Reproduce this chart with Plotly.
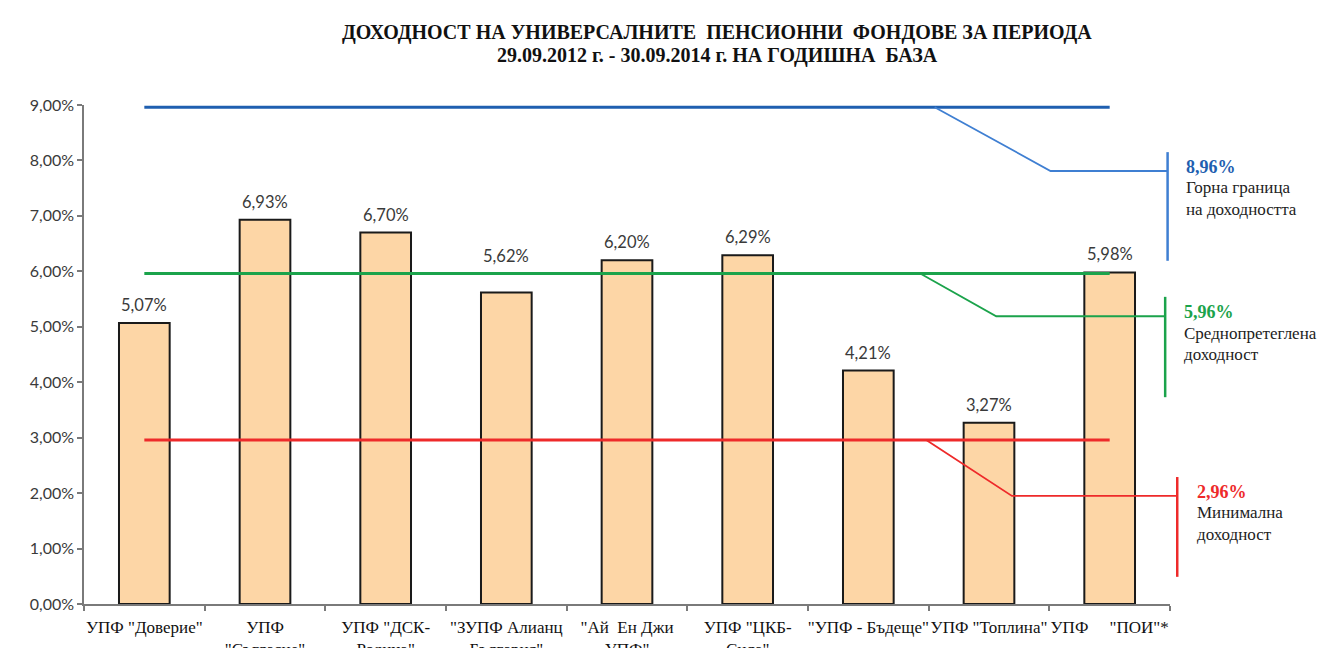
import plotly.graph_objects as go

# ---- data ----
categories = [
    'УПФ "Доверие"',
    'УПФ<br>"Съгласие"',
    'УПФ "ДСК-<br>Родина"',
    '"ЗУПФ Алианц<br>България"',
    '"Ай  Ен Джи<br>УПФ"',
    'УПФ "ЦКБ-<br>Сила"',
    '"УПФ - Бъдеще"',
    'УПФ "Топлина"',
    'УПФ\u00a0\u00a0\u00a0\u00a0\u00a0"ПОИ"*',
]
returns = [5.07, 6.93, 6.70, 5.62, 6.20, 6.29, 4.21, 3.27, 5.98]

upper_limit = 8.96
weighted_avg = 5.96
minimum = 2.96

y_tickvals = [0, 1, 2, 3, 4, 5, 6, 7, 8, 9]
y_ticktext = ["0,00%", "1,00%", "2,00%", "3,00%", "4,00%", "5,00%",
              "6,00%", "7,00%", "8,00%", "9,00%"]

title_lines = ["ДОХОДНОСТ НА УНИВЕРСАЛНИТЕ  ПЕНСИОННИ  ФОНДОВЕ ЗА ПЕРИОДА",
               "29.09.2012 г. - 30.09.2014 г. НА ГОДИШНА  БАЗА"]

callout_labels = [
    ("Горна граница", "на доходността"),
    ("Среднопретеглена", "доходност"),
    ("Минимална", "доходност"),
]

# ---- styling / layout ----
SERIF = "Liberation Serif, Times New Roman, serif"
SANS = "Lato, Calibri, sans-serif"
W, H = 1322, 648
ML, MR, MT, MB = 84, 2, 105, 44
axis_end_px = 1170
dom_end = (axis_end_px - ML) / (W - ML - MR)
n = len(categories)
x2_max = -0.5 + n / dom_end
title_center_px = 717

levels = [upper_limit, weighted_avg, minimum]
main_colors = ["#1F5FB0", "#1BA34B", "#EE2A2A"]
lead_colors = ["#3F7FD2", "#1BA34B", "#EE2A2A"]
# leader geometry (axis units): start x, knee x, end x, knee y, bar y0, bar y1, text x
leaders = [
    dict(sx=6.55, kx=7.51, ex=8.48, ky=7.81, vy0=6.19, vy1=8.15, tx=8.62),
    dict(sx=6.43, kx=7.06, ex=8.46, ky=5.19, vy0=3.73, vy1=5.54, tx=8.60),
    dict(sx=6.48, kx=7.19, ex=8.56, ky=1.95, vy0=0.49, vy1=2.29, tx=8.71),
]

fig = go.Figure()

fig.add_trace(go.Bar(
    x=categories, y=returns,
    marker=dict(color="#FDD6A6", line=dict(color="#1a1a1a", width=2)),
    width=0.42, xaxis="x", yaxis="y", hoverinfo="skip", showlegend=False,
))

idx = list(range(n))
for lvl, col in zip(levels, main_colors):
    fig.add_trace(go.Scatter(
        x=[idx[0], idx[-1]], y=[lvl, lvl], mode="lines",
        line=dict(color=col, width=3), xaxis="x2", yaxis="y",
        hoverinfo="skip", showlegend=False,
    ))

for lvl, col, ld in zip(levels, lead_colors, leaders):
    fig.add_trace(go.Scatter(
        x=[ld["sx"], ld["kx"], ld["ex"]], y=[lvl, ld["ky"], ld["ky"]], mode="lines",
        line=dict(color=col, width=1.8), xaxis="x2", yaxis="y",
        hoverinfo="skip", showlegend=False,
    ))
    fig.add_trace(go.Scatter(
        x=[ld["ex"], ld["ex"]], y=[ld["vy0"], ld["vy1"]], mode="lines",
        line=dict(color=col, width=2.5), xaxis="x2", yaxis="y",
        hoverinfo="skip", showlegend=False,
    ))

annotations = []
# bar value labels
for cat, v in zip(categories, returns):
    anchor_y = weighted_avg if 0 < weighted_avg - v < 0.5 else v
    annotations.append(dict(
        x=cat, y=anchor_y, xref="x", yref="y", text=f"{v:.2f}%".replace(".", ","),
        showarrow=False, yanchor="middle", yshift=18,
        font=dict(family=SANS, size=16.5, color="#3a3a3a"),
    ))

# callout texts
for lvl, col, ld, (l1, l2) in zip(levels, main_colors, leaders, callout_labels):
    annotations.append(dict(
        x=ld["tx"], y=ld["ky"], xref="x2", yref="y", text=f"<b>{lvl:.2f}%</b>".replace(".", ","),
        showarrow=False, xanchor="left", yanchor="middle", yshift=4,
        font=dict(family=SERIF, size=18, color=col),
    ))
    for k, line in enumerate((l1, l2)):
        annotations.append(dict(
            x=ld["tx"], y=ld["ky"], xref="x2", yref="y", text=line,
            showarrow=False, xanchor="left", yanchor="middle", yshift=-17 - 21.5 * k,
            font=dict(family=SERIF, size=17, color="#222222"),
        ))

# title
for k, t in enumerate(title_lines):
    annotations.append(dict(
        x=(title_center_px - ML) / (W - ML - MR), y=1, xref="paper", yref="paper",
        text=f"<b>{t}</b>",
        showarrow=False, xanchor="center", yanchor="middle",
        yshift=(MT - 32) if k == 0 else (MT - 55),
        font=dict(family=SERIF, size=20, color="#111111"),
    ))

fig.update_layout(
    width=W, height=H,
    margin=dict(l=ML, r=MR, t=MT, b=MB, pad=0, autoexpand=False),
    paper_bgcolor="white", plot_bgcolor="rgba(0,0,0,0)",
    showlegend=False,
    annotations=annotations,
    xaxis=dict(
        type="category", domain=[0, dom_end], anchor="y",
        range=[-0.5, n - 0.5], automargin=False, tickangle=0,
        showline=True, linecolor="#7a7a7a", linewidth=1.5,
        ticks="outside", tickson="boundaries", ticklen=5, tickcolor="#7a7a7a", tickwidth=1.5,
        showgrid=False, zeroline=False, ticklabelstandoff=7,
        tickfont=dict(family=SERIF, size=17, color="#111111"),
    ),
    xaxis2=dict(
        domain=[0, 1], anchor="y", range=[-0.5, x2_max],
        visible=False, showgrid=False, zeroline=False, automargin=False,
    ),
    yaxis=dict(
        range=[0, 9], anchor="x", tickmode="array", automargin=False,
        tickvals=y_tickvals, ticktext=y_ticktext,
        showline=True, linecolor="#7a7a7a", linewidth=1.5,
        ticks="outside", ticklen=5, tickcolor="#7a7a7a", tickwidth=1.5,
        showgrid=False, zeroline=False,
        tickfont=dict(family=SANS, size=16, color="#3a3a3a"),
    ),
)

fig.write_html("out.html", config={"displayModeBar": False},
               post_script="document.body.style.margin='0';document.body.style.overflow='hidden';")
